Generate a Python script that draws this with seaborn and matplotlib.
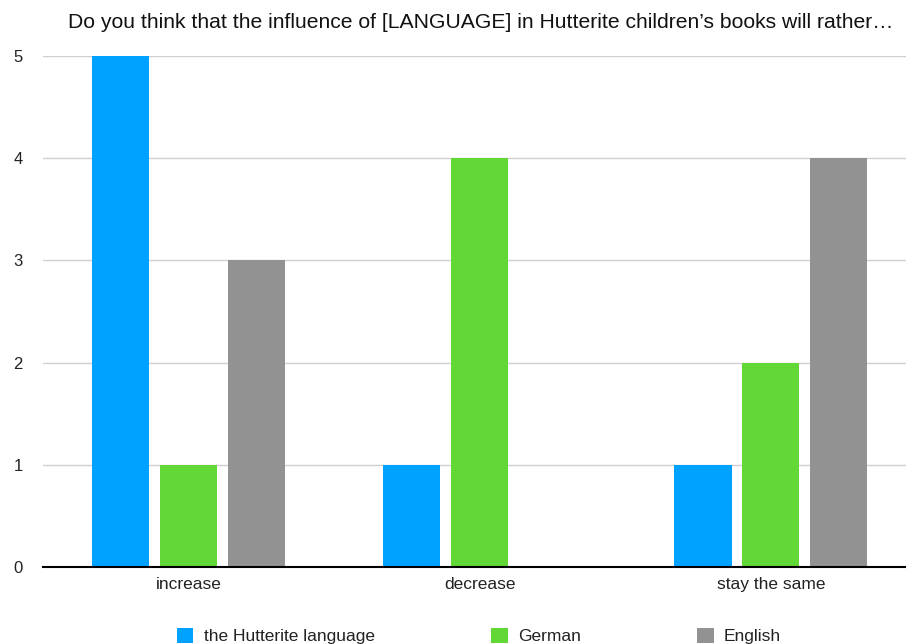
import matplotlib
matplotlib.use("Agg")
import matplotlib.pyplot as plt
import seaborn as sns
import pandas as pd

categories = ["increase", "decrease", "stay the same"]
series = ["the Hutterite language", "German", "English"]
hutterite = [5, 1, 1]
german = [1, 4, 2]
english = [3, 0, 4]
colors = ["#00A2FF", "#61D836", "#929292"]
yticks = [0, 1, 2, 3, 4, 5]
title = "Do you think that the influence of [LANGUAGE] in Hutterite children\u2019s books will rather\u2026"

rows = []
for name, vals in zip(series, [hutterite, german, english]):
    for c, v in zip(categories, vals):
        rows.append({"cat": c, "series": name, "value": v})
df = pd.DataFrame(rows)

sns.set_theme(style="white")
plt.rcParams["font.family"] = ["Liberation Sans", "DejaVu Sans"]

fig = plt.figure(figsize=(9.06, 6.44), dpi=100)
ax = fig.add_axes([43/906, 1-567/644, 873.5/906, (567-56)/644])

sns.barplot(data=df, x="cat", y="value", hue="series", order=categories,
            hue_order=series, palette=colors, width=0.7, gap=0.16,
            saturation=1, errorbar=None, linewidth=0, ax=ax, zorder=2)

ax.set_xlim(-0.5, 2.5)
ax.set_ylim(0, 5)
ax.set_yticks(yticks)
ax.set_yticklabels([str(t) for t in yticks])
ax.set_xlabel("")
ax.set_ylabel("")
ax.yaxis.grid(True, color="#d0d0d0", linewidth=1)
ax.set_axisbelow(True)
for s in ["top", "right", "left"]:
    ax.spines[s].set_visible(False)
ax.spines["bottom"].set_color("black")
ax.spines["bottom"].set_linewidth(1.5)
ax.spines["bottom"].set_zorder(3)
ax.tick_params(axis="y", length=0, pad=14.4, labelsize=12, labelcolor="#222222")
ax.tick_params(axis="x", length=0, pad=7, labelsize=12.5, labelcolor="#222222")

handles, labels = ax.get_legend_handles_labels()
ax.get_legend().remove()
fig.legend(handles, labels, loc="center", bbox_to_anchor=(479/906, 1-636/644),
           ncol=3, frameon=False, fontsize=12.5, handlelength=0.95,
           handleheight=0.95, handletextpad=0.6, columnspacing=6.7,
           labelcolor="#222222", borderpad=0, borderaxespad=0)

fig.text(481/906, 1-22/644, title, ha="center", va="center", fontsize=15.25,
         color="#111111")

fig.savefig("out.png", dpi=100)
